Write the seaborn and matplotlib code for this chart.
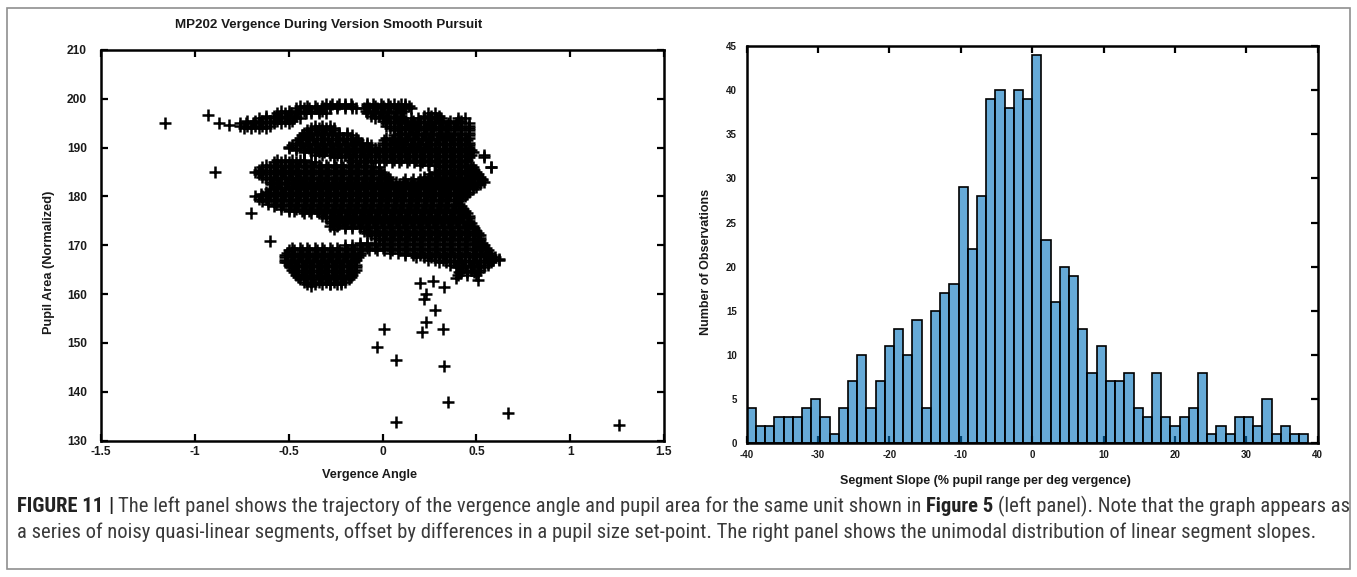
import numpy as np
import pandas as pd
import matplotlib
matplotlib.use("Agg")
import matplotlib.pyplot as plt
import seaborn as sns
from matplotlib import font_manager
from matplotlib.patches import Rectangle

# ---------------------------------------------------------------
# Left panel: vergence angle vs. normalized pupil area (MP202)
# Dense trajectory: for each pupil-area level, vergence values (x100)
# ---------------------------------------------------------------
pupil_levels = [199, 198, 197, 196, 195, 194, 193, 192, 191, 190,
                189, 188, 187, 186, 185, 184, 183, 182, 181, 180,
                179, 178, 177, 176, 175, 174, 173, 172, 171, 170,
                169, 168, 167, 166, 165, 164, 163, 162]

vergence_rows = [
    [-30, -27, -23, -20, -17, -8, -5, -1, 3, 6, 10, 12],
    [-46, -42, -39, -35, -31, -28, -24, -20, -16, -14, -10, -7, -3, 1, 4, 8, 12, 15],
    [-56, -52, -49, -45, -41, -38, -34, -30, -8, -4, -1, 3, 7, 10, 24, 28],
    [-66, -62, -58, -55, -51, -47, -44, -4, 0, 3, 7, 11, 15, 19, 22, 26, 29, 31, 40, 44],
    [-76, -73, -69, -65, -62, -58, -54, -50, 2, 6, 9, 13, 17, 20, 24, 28, 31, 35, 39, 42, 46],
    [-74, -70, -66, -62, -38, -34, -30, -26, 4, 8, 12, 15, 19, 23, 27, 31, 34, 38, 42, 46],
    [-42, -38, -35, -31, -27, -23, -19, 8, 12, 16, 19, 23, 27, 31, 35, 38, 42, 46],
    [-44, -40, -37, -33, -29, -25, -21, -17, -14, 2, 6, 10, 13, 17, 21, 25, 29, 32, 36, 40, 44, 46],
    [-46, -43, -39, -35, -31, -27, -23, -19, -15, -11, -8, 0, 4, 7, 11, 15, 19, 23, 26, 30, 34, 38, 42, 46],
    [-50, -46, -42, -39, -35, -31, -27, -23, -19, -15, -11, -7, -4, 0, 4, 8, 12, 16, 20, 24, 28, 32, 36, 40, 44, 46],
    [-42, -38, -34, -31, -27, -23, -19, -15, -11, -7, -3, 1, 5, 9, 13, 17, 21, 25, 29, 33, 37, 41, 45, 48],
    [-26, -22, -18, -14, -10, -6, -2, 2, 6, 10, 14, 18, 22, 26, 30, 34, 38, 42, 46, 54],
    [-58, -54, -50, -46, -42, -38, -36, -16, -12, -8, -4, 1, 5, 9, 13, 17, 21, 25, 29, 33, 37, 41, 44],
    [-64, -60, -56, -52, -48, -45, -41, -37, -33, -29, -25, -21, -17, -13, -9, -5, -2, 30, 34, 38, 42, 45, 48, 58],
    [-68, -64, -60, -56, -53, -49, -45, -41, -37, -33, -29, -25, -21, -17, -13, -9, -5, -1, 28, 32, 36, 40, 44, 47, 50],
    [-64, -60, -56, -52, -48, -44, -41, -37, -33, -29, -25, -21, -17, -13, -9, -5, -1, 3, 22, 26, 30, 34, 38, 42, 46, 49, 52],
    [-60, -56, -52, -48, -45, -41, -37, -33, -29, -25, -21, -17, -13, -9, -5, -1, 3, 7, 11, 15, 19, 23, 27, 31, 35, 39, 43, 47, 51, 54],
    [-58, -54, -50, -46, -42, -38, -34, -30, -26, -22, -18, -14, -10, -6, -2, 2, 6, 10, 14, 18, 22, 26, 30, 34, 38, 42, 46, 50],
    [-62, -58, -54, -50, -46, -42, -38, -34, -30, -26, -22, -18, -14, -10, -6, -2, 2, 6, 10, 14, 18, 22, 26, 30, 34, 38, 42, 46],
    [-68, -64, -60, -56, -52, -48, -44, -40, -36, -32, -28, -24, -20, -16, -12, -8, -4, 0, 4, 8, 12, 16, 20, 24, 28, 32, 36, 40, 44],
    [-64, -61, -57, -53, -49, -45, -41, -37, -33, -29, -25, -21, -17, -13, -9, -5, -1, 3, 7, 11, 15, 19, 23, 27, 31, 35, 40],
    [-58, -54, -50, -46, -42, -38, -34, -30, -26, -22, -18, -14, -10, -6, -2, 2, 6, 10, 14, 18, 22, 26, 30, 34, 38, 42],
    [-50, -47, -43, -39, -35, -31, -27, -23, -19, -15, -11, -7, -3, 1, 5, 9, 13, 17, 21, 25, 29, 33, 37, 41, 44],
    [-32, -28, -24, -20, -16, -12, -8, -4, 0, 4, 8, 12, 16, 20, 24, 28, 32, 36, 40, 43, 46],
    [-28, -25, -21, -17, -13, -9, -5, -1, 3, 7, 11, 15, 19, 23, 27, 31, 35, 39, 43, 46],
    [-28, -24, -20, -16, -12, -8, -4, 0, 4, 8, 12, 16, 20, 24, 28, 32, 36, 40, 44, 48],
    [-10, -7, -3, 1, 5, 9, 13, 17, 21, 25, 29, 33, 37, 41, 45, 50],
    [-6, -2, 2, 6, 10, 14, 18, 22, 26, 30, 34, 38, 42, 46, 49, 52],
    [-2, 1, 5, 9, 13, 17, 21, 25, 29, 33, 37, 41, 45, 49, 52],
    [-20, -16, -12, -8, -4, 0, 4, 8, 12, 16, 20, 24, 28, 32, 36, 40, 44, 48, 51, 54],
    [-50, -47, -43, -39, -35, -31, -27, -23, -19, -15, -11, -7, -3, 1, 5, 9, 13, 17, 21, 25, 29, 33, 37, 41, 45, 50, 53, 56],
    [-52, -48, -44, -40, -36, -32, -28, -24, -20, -16, -12, 12, 16, 20, 24, 28, 32, 36, 40, 44, 48, 52, 55, 58],
    [-52, -49, -45, -41, -37, -33, -29, -25, -21, -17, -14, 24, 28, 32, 36, 40, 44, 48, 52, 56, 59, 62],
    [-50, -46, -42, -38, -34, -30, -26, -22, -18, -14, 36, 40, 44, 48, 52, 56],
    [-48, -45, -41, -37, -33, -29, -25, -21, -17, -14, 42, 47, 52],
    [-46, -42, -38, -34, -30, -26, -22, -18, -16, 40, 45, 50],
    [-44, -41, -37, -33, -29, -25, -21, -18],
    [-40, -36, -32, -28, -24, -22],
]

# Samples taken between the levels above
pupil_levels_mid = [198.5, 197.5, 196.5, 195.5, 194.5, 193.5, 192.5, 191.5, 190.5,
                    189.5, 188.5, 187.5, 186.5, 185.5, 184.5, 183.5, 182.5, 181.5,
                    180.5, 179.5, 178.5, 177.5, 176.5, 175.5, 174.5, 173.5, 172.5,
                    171.5, 170.5, 169.5, 168.5, 167.5, 166.5, 165.5, 164.5, 163.5,
                    162.5]

vergence_rows_mid = [
    [-44, -40, -36, -32, -28, -24, -20, -16, -8, -4, 0, 4, 8, 12, 14],
    [-54, -50, -46, -42, -38, -34, -32, -9, -5, -1, 3, 7, 11],
    [-62, -58, -54, -50, -46, -6, -2, 2, 6, 10, 22, 26, 30],
    [-72, -68, -64, -60, -56, -52, -48, 0, 4, 8, 12, 16, 20, 24, 28, 32, 36, 40, 42],
    [-76, -72, -68, -64, -60, -36, -32, -28, 2, 6, 10, 14, 18, 22, 26, 30, 34, 38, 42, 46],
    [-40, -36, -32, -28, -26, 6, 10, 14, 18, 22, 26, 30, 34, 38, 42, 46],
    [-43, -39, -35, -31, -27, -23, -19, -16, 6, 10, 14, 18, 22, 26, 30, 34, 38, 42, 46],
    [-45, -41, -37, -33, -29, -25, -21, -17, -13, 1, 5, 9, 13, 17, 21, 25, 29, 33, 37, 41, 45],
    [-48, -44, -40, -36, -32, -28, -24, -20, -16, -12, -8, -6, 0, 4, 8, 12, 16, 20, 24, 28, 32, 36, 40, 44, 46],
    [-46, -42, -38, -34, -30, -26, -22, -18, -14, -10, -6, -2, 2, 6, 10, 14, 18, 22, 26, 30, 34, 38, 42, 46, 47],
    [-36, -32, -28, -24, -20, -16, -12, -8, -4, 0, 4, 8, 12, 16, 20, 24, 28, 32, 36, 40, 44, 47],
    [-56, -52, -48, -44, -42, -18, -14, -10, -6, -2, 2, 6, 10, 14, 18, 22, 26, 30, 34, 38, 42, 45],
    [-62, -58, -54, -50, -46, -42, -38, -34, -30, -26, -22, -18, -14, -10, 20, 24, 28, 32, 36, 40, 44, 47],
    [-66, -62, -58, -54, -50, -46, -42, -38, -34, -30, -26, -22, -18, -14, -10, -6, -2, 30, 34, 38, 42, 46, 49],
    [-66, -62, -58, -54, -50, -46, -42, -38, -34, -30, -26, -22, -18, -14, -10, -6, -2, 1, 25, 29, 33, 37, 41, 45, 49, 51],
    [-62, -58, -54, -50, -46, -42, -38, -34, -30, -26, -22, -18, -14, -10, -6, -2, 2, 4, 12, 16, 20, 24, 28, 32, 36, 40, 44, 48, 52, 53],
    [-59, -55, -51, -47, -43, -39, -35, -31, -27, -23, -19, -15, -11, -7, -3, 1, 5, 9, 13, 17, 21, 25, 29, 33, 37, 41, 45, 49, 52],
    [-60, -56, -52, -48, -44, -40, -36, -32, -28, -24, -20, -16, -12, -8, -4, 0, 4, 8, 12, 16, 20, 24, 28, 32, 36, 40, 44, 48],
    [-65, -61, -57, -53, -49, -45, -41, -37, -33, -29, -25, -21, -17, -13, -9, -5, -1, 3, 7, 11, 15, 19, 23, 27, 31, 35, 39, 43, 45],
    [-66, -62, -58, -54, -50, -46, -42, -38, -34, -30, -26, -22, -18, -14, -10, -6, -2, 2, 6, 10, 14, 18, 22, 26, 30, 34, 38, 42],
    [-61, -57, -53, -49, -45, -41, -37, -33, -29, -25, -21, -17, -13, -9, -5, -1, 3, 7, 11, 15, 19, 23, 27, 31, 35, 39, 41],
    [-54, -50, -46, -42, -38, -34, -30, -26, -22, -18, -14, -10, -6, -2, 2, 6, 10, 14, 18, 22, 26, 30, 34, 38, 42, 43],
    [-42, -38, -34, -30, -26, -22, -18, -14, -10, -6, -2, 2, 6, 10, 14, 18, 22, 26, 30, 34, 38, 42, 45],
    [-30, -26, -22, -18, -14, -10, -6, -2, 2, 6, 10, 14, 18, 22, 26, 30, 34, 38, 42, 46],
    [-27, -23, -19, -15, -11, -7, -3, 1, 5, 9, 13, 17, 21, 25, 29, 33, 37, 41, 45, 47],
    [-20, -16, -12, -8, -4, 0, 4, 8, 12, 16, 20, 24, 28, 32, 36, 40, 44, 48, 49],
    [-8, -4, 0, 4, 8, 12, 16, 20, 24, 28, 32, 36, 40, 44, 48, 51],
    [-4, 0, 4, 8, 12, 16, 20, 24, 28, 32, 36, 40, 44, 48, 52],
    [-12, -8, -4, 0, 4, 8, 12, 16, 20, 24, 28, 32, 36, 40, 44, 48, 53],
    [-48, -44, -40, -36, -32, -28, -24, -20, -16, -12, -8, -4, 0, 4, 8, 12, 16, 20, 24, 28, 32, 36, 40, 44, 48, 52, 55],
    [-51, -47, -43, -39, -35, -31, -27, -23, -19, -15, -12, 4, 8, 12, 16, 20, 24, 28, 32, 36, 40, 44, 48, 52, 57],
    [-52, -48, -44, -40, -36, -32, -28, -24, -20, -16, -13, 18, 22, 26, 30, 34, 38, 42, 46, 50, 54, 58, 60],
    [-51, -47, -43, -39, -35, -31, -27, -23, -19, -15, 30, 34, 38, 42, 46, 50, 54, 58],
    [-49, -45, -41, -37, -33, -29, -25, -21, -17, -14, 39, 43, 47, 51, 54],
    [-47, -43, -39, -35, -31, -27, -23, -19, -15, 41, 45, 49, 51],
    [-45, -41, -37, -33, -29, -25, -21, -17],
    [-42, -38, -34, -30, -26, -22, -20],
]

# Isolated samples away from the main trajectory
outlier_vergence = [-1.16, -0.93, -0.87, -0.82, -0.89, -0.70, -0.60, 0.20, 0.27, 0.33,
                    0.23, 0.22, 0.28, 0.01, 0.32, 0.21, 0.23, -0.03, 0.07, 0.33,
                    0.35, 0.67, 0.07, 1.26, 0.54, 0.58, 0.53, 0.62, 0.51, 0.39,
                    0.42, 0.51, 0.50, 0.56, -0.26, -0.24, -0.52, -0.38, -0.28, 0.41,
                    -0.50, 0.28, -0.66]
outlier_pupil = [195.1, 196.7, 195.1, 194.6, 184.9, 176.6, 170.8, 162.3, 162.6, 161.4,
                 160.1, 158.9, 156.8, 152.8, 152.8, 152.2, 154.3, 149.1, 146.5, 145.3,
                 138.0, 135.6, 133.8, 133.3, 188.4, 186.0, 183.3, 167.1, 162.8, 163.3,
                 164.5, 172.0, 170.4, 166.4, 173.4, 174.2, 166.6, 161.6, 162.0, 176.8,
                 190.1, 196.0, 185.0]

# ---------------------------------------------------------------
# Right panel: histogram of segment slopes
# ---------------------------------------------------------------
slope_counts = [4, 2, 2, 3, 3, 3, 4, 5, 3, 1,
                4, 7, 10, 4, 7, 11, 13, 10, 14, 4,
                15, 17, 18, 29, 22, 28, 39, 40, 38, 40,
                39, 44, 23, 16, 20, 19, 13, 8, 11, 7,
                7, 8, 4, 3, 8, 3, 2, 3, 4, 8,
                1, 2, 1, 3, 3, 2, 5, 1, 2, 1, 1]
slope_start = -40.0
slope_bin_width = 80.0 / 62

# ---------------------------------------------------------------
# Data frames
# ---------------------------------------------------------------
traj_x, traj_y = [], []
for levels, rows in ((pupil_levels, vergence_rows), (pupil_levels_mid, vergence_rows_mid)):
    for level, row in zip(levels, rows):
        traj_x.extend(v / 100.0 for v in row)
        traj_y.extend([float(level)] * len(row))
scatter_df = pd.DataFrame({
    "vergence": traj_x + outlier_vergence,
    "pupil": traj_y + outlier_pupil,
})

edges = (slope_start + slope_bin_width * np.arange(len(slope_counts) + 1)).tolist()
centers = [0.5 * (a + b) for a, b in zip(edges[:-1], edges[1:])]
hist_df = pd.DataFrame({"slope": centers, "count": slope_counts})

# ---------------------------------------------------------------
# Figure
# ---------------------------------------------------------------
sns.set_theme(style="white")
plt.rcParams["font.family"] = ["Liberation Sans", "DejaVu Sans"]
plt.rcParams["axes.unicode_minus"] = False

W, H = 1357, 577
fig = plt.figure(figsize=(W / 100, H / 100), dpi=100)
fig.patch.set_facecolor("white")


def px_rect(x0, y0, x1, y1):
    return [x0 / W, 1 - y1 / H, (x1 - x0) / W, (y1 - y0) / H]


ax_l = fig.add_axes(px_rect(101.0, 49.8, 664.0, 440.7))
ax_r = fig.add_axes(px_rect(746.7, 46.0, 1317.7, 443.3))

ink = "#1a1a1a"

sns.scatterplot(data=scatter_df, x="vergence", y="pupil", marker="+",
                s=80, color="black", linewidth=1.8, legend=False, ax=ax_l)
ax_l.set_xlim(-1.5, 1.5)
ax_l.set_ylim(130, 210)
ax_l.set_xticks(np.arange(-1.5, 1.51, 0.5))
ax_l.set_xticklabels(["-1.5", "-1", "-0.5", "0", "0.5", "1", "1.5"])
ax_l.set_yticks(np.arange(130, 211, 10))

sns.histplot(data=hist_df, x="slope", weights="count", bins=edges,
             color=(0.0, 0.447, 0.741), alpha=0.6, edgecolor="black",
             linewidth=1.2, ax=ax_r)
ax_r.set_xlim(-40, 40)
ax_r.set_ylim(0, 45)
ax_r.set_xticks(np.arange(-40, 41, 10))
ax_r.set_yticks(np.arange(0, 46, 5))
ax_r.set_axisbelow(True)

for ax, lsize, show_left, xpad, ypad in ((ax_l, 8.6, True, 4, 10), (ax_r, 7.0, False, 5, 7)):
    ax.grid(False)
    ax.set_xlabel("")
    ax.set_ylabel("")
    for sp in ax.spines.values():
        sp.set_visible(True)
        sp.set_color("black")
        sp.set_linewidth(1.8)
    ax.tick_params(axis="both", which="major", direction="in", length=5, width=1.6,
                   color="black", top=True, right=True, left=show_left, bottom=True,
                   labelsize=lsize, labelcolor=ink)
    ax.tick_params(axis="x", pad=xpad)
    ax.tick_params(axis="y", pad=ypad)
    for lab in ax.get_xticklabels() + ax.get_yticklabels():
        lab.set_fontweight("bold")

# Titles and axis labels
lbl = dict(fontweight="bold", color=ink)
fig.text(329 / W, 1 - 25 / H, "MP202 Vergence During Version Smooth Pursuit",
         ha="center", va="center", fontsize=9.6, **lbl)
fig.text(370 / W, 1 - 475 / H, "Vergence Angle", ha="center", va="center",
         fontsize=9.2, **lbl)
fig.text(49 / W, 1 - 262 / H, "Pupil Area (Normalized)", ha="center", va="center",
         rotation=90, fontsize=9.2, **lbl)
fig.text(985 / W, 1 - 481 / H, "Segment Slope (% pupil range per deg vergence)",
         ha="center", va="center", fontsize=9.0, **lbl)
fig.text(706 / W, 1 - 262 / H, "Number of Observations", ha="center", va="center",
         rotation=90, fontsize=9.0, **lbl)

# Outer frame
fig.add_artist(Rectangle((7 / W, 1 - 569 / H), (1350 - 7) / W, (569 - 8) / H,
                         transform=fig.transFigure, fill=False,
                         edgecolor="#8f8f8f", linewidth=1.2))

# Caption with mixed weights
names = {f.name for f in font_manager.fontManager.ttflist}
cap_family = next((n for n in ["Liberation Sans Narrow", "Roboto Condensed",
                               "Open Sans Condensed", "Liberation Sans"] if n in names),
                  "DejaVu Sans")
renderer = fig.canvas.get_renderer()


def width_of(s, size, weight):
    t = fig.text(0, 0, s, fontsize=size, fontweight=weight, family=cap_family)
    w = t.get_window_extent(renderer).width
    t.remove()
    return w


line1 = [("FIGURE 11", "bold"), ("|", "bold"),
         ("The left panel shows the trajectory of the vergence angle and pupil area for the same unit shown in", "normal"),
         ("Figure 5", "bold"),
         ("(left panel). Note that the graph appears as", "normal")]
line2 = [("a series of noisy quasi-linear segments, offset by differences in a pupil size set-point. "
          "The right panel shows the unimodal distribution of linear segment slopes.", "normal")]


def line_width(runs, size):
    sp = width_of("a a", size, "normal") - width_of("aa", size, "normal")
    return sum(width_of(t, size, w) for t, w in runs) + sp * (len(runs) - 1), sp


base = 10.0
w1, _ = line_width(line1, base)
cap_size = base * (1342 - 17) / w1


def draw_line(runs, y_px, size):
    _, sp = line_width(runs, size)
    x = 17.0
    for t, w in runs:
        fig.text(x / W, 1 - y_px / H, t, fontsize=size, fontweight=w, family=cap_family,
                 color="#222222" if w == "bold" else "#3a3a3a", ha="left", va="center")
        x += width_of(t, size, w) + sp


draw_line(line1, 506, cap_size)
draw_line(line2, 532, cap_size)

fig.savefig("out.png", dpi=100, facecolor="white")
